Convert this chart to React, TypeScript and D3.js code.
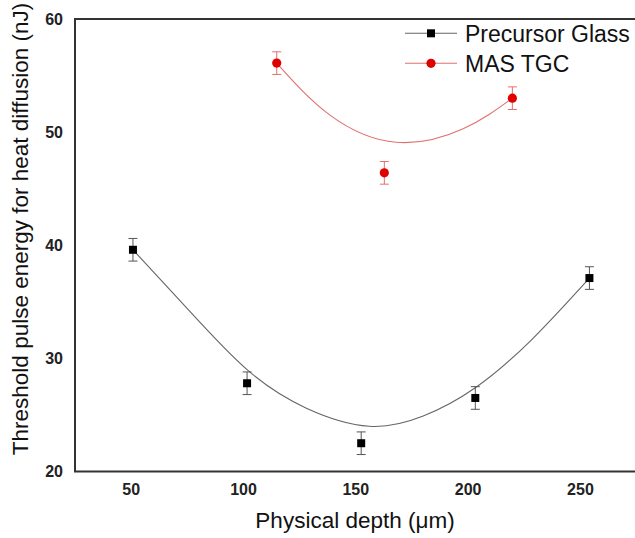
import React from "react";
import * as d3 from "d3";

const precursorX = [50.8, 101.6, 152.4, 203.2, 254];
const precursorY = [39.6, 27.8, 22.5, 26.5, 37.1];
const precursorErr = [1.0, 1.0, 1.0, 1.0, 1.0];

const masX = [114.8, 162.7, 219.7];
const masY = [56.1, 46.4, 53.0];
const masErr = [1.0, 1.0, 1.0];

// fitted curves
const precursorFitX = [50.8, 75, 101.6, 128, 156, 180, 203.2, 228, 254];
const precursorFitY = [39.6, 34.4, 29.0, 25.6, 24.0, 24.9, 27.4, 31.6, 37.1];
const masFitX = [114.8, 138.5, 168, 197.8, 219.7];
const masFitY = [56.1, 51.5, 49.1, 50.3, 53.0];

const xTicks = [50, 100, 150, 200, 250];
const yTicks = [20, 30, 40, 50, 60];

const seriesNames = ["Precursor Glass", "MAS TGC"];

const W = 635;
const H = 538;
const FONT = "'Liberation Sans', Arial, Helvetica, sans-serif";

export default function App() {
  const x = d3.scaleLinear().domain([25, 275]).range([75, 636.6]);
  const y = d3.scaleLinear().domain([20, 60]).range([471.5, 19]);

  const line = d3
    .line<[number, number]>()
    .x((d) => x(d[0]))
    .y((d) => y(d[1]))
    .curve(d3.curveNatural);

  const blackFit = line(precursorFitX.map((v, i) => [v, precursorFitY[i]] as [number, number])) || "";
  const redFit = line(masFitX.map((v, i) => [v, masFitY[i]] as [number, number])) || "";

  const [x0, x1] = x.range();
  const [yb, yt] = y.range();

  const blackColor = "#000";
  const blackLine = "#666";
  const redColor = "#e00000";
  const redLine = "#e07070";
  const cap = 4.5;

  return (
    <svg
      width={W}
      height={H}
      style={{ position: "absolute", left: 0, top: 0, background: "#fff" }}
      fontFamily={FONT}
    >
      <rect x={0} y={0} width={W} height={H} fill="#fff" />
      {/* frame */}
      <path
        d={`M${x1},${yt} L${x0},${yt} L${x0},${yb} L${x1},${yb}`}
        fill="none"
        stroke="#333"
        strokeWidth={2}
      />
      {/* y tick labels */}
      {yTicks.map((t) => (
        <text
          key={"y" + t}
          x={63}
          y={y(t)}
          dy="0.36em"
          textAnchor="end"
          fontSize={16}
          fontWeight="bold"
          fill="#222"
        >
          {t}
        </text>
      ))}
      {/* x tick labels */}
      {xTicks.map((t) => (
        <text
          key={"x" + t}
          x={x(t)}
          y={489.5}
          dy="0.36em"
          textAnchor="middle"
          fontSize={16}
          fontWeight="bold"
          fill="#222"
        >
          {t}
        </text>
      ))}
      {/* axis titles */}
      <text x={355} y={528} textAnchor="middle" fontSize={22.5} fill="#111">
        Physical depth (μm)
      </text>
      <text
        transform={`translate(28,229) rotate(-90)`}
        textAnchor="middle"
        fontSize={22.5}
        fill="#111"
      >
        Threshold pulse energy for heat diffusion (nJ)
      </text>

      {/* fit curves */}
      <path d={blackFit} fill="none" stroke={blackLine} strokeWidth={1.1} />
      <path d={redFit} fill="none" stroke={redLine} strokeWidth={1.1} />

      {/* precursor error bars and markers */}
      {precursorX.map((v, i) => {
        const cx = x(v);
        const top = y(precursorY[i] + precursorErr[i]);
        const bot = y(precursorY[i] - precursorErr[i]);
        return (
          <g key={"p" + i}>
            <line x1={cx} x2={cx} y1={top} y2={bot} stroke="#555" strokeWidth={1} />
            <line x1={cx - cap} x2={cx + cap} y1={top} y2={top} stroke="#555" strokeWidth={1} />
            <line x1={cx - cap} x2={cx + cap} y1={bot} y2={bot} stroke="#555" strokeWidth={1} />
            <rect x={cx - 4} y={y(precursorY[i]) - 4} width={8} height={8} fill={blackColor} />
          </g>
        );
      })}
      {/* MAS error bars and markers */}
      {masX.map((v, i) => {
        const cx = x(v);
        const top = y(masY[i] + masErr[i]);
        const bot = y(masY[i] - masErr[i]);
        return (
          <g key={"m" + i}>
            <line x1={cx} x2={cx} y1={top} y2={bot} stroke={redLine} strokeWidth={1} />
            <line x1={cx - cap} x2={cx + cap} y1={top} y2={top} stroke={redLine} strokeWidth={1} />
            <line x1={cx - cap} x2={cx + cap} y1={bot} y2={bot} stroke={redLine} strokeWidth={1} />
            <circle cx={cx} cy={y(masY[i])} r={4.6} fill={redColor} />
          </g>
        );
      })}

      {/* legend */}
      <g>
        <line x1={405} x2={457} y1={33.3} y2={33.3} stroke={blackLine} strokeWidth={1.1} />
        <rect x={431 - 4} y={33.3 - 4} width={8} height={8} fill={blackColor} />
        <text x={465} y={41.5} fontSize={23} fill="#111">
          {seriesNames[0]}
        </text>
        <line x1={405} x2={457} y1={63.3} y2={63.3} stroke={redLine} strokeWidth={1.1} />
        <circle cx={431} cy={63.3} r={4.6} fill={redColor} />
        <text x={465} y={71.5} fontSize={23} fill="#111">
          {seriesNames[1]}
        </text>
      </g>
    </svg>
  );
}
